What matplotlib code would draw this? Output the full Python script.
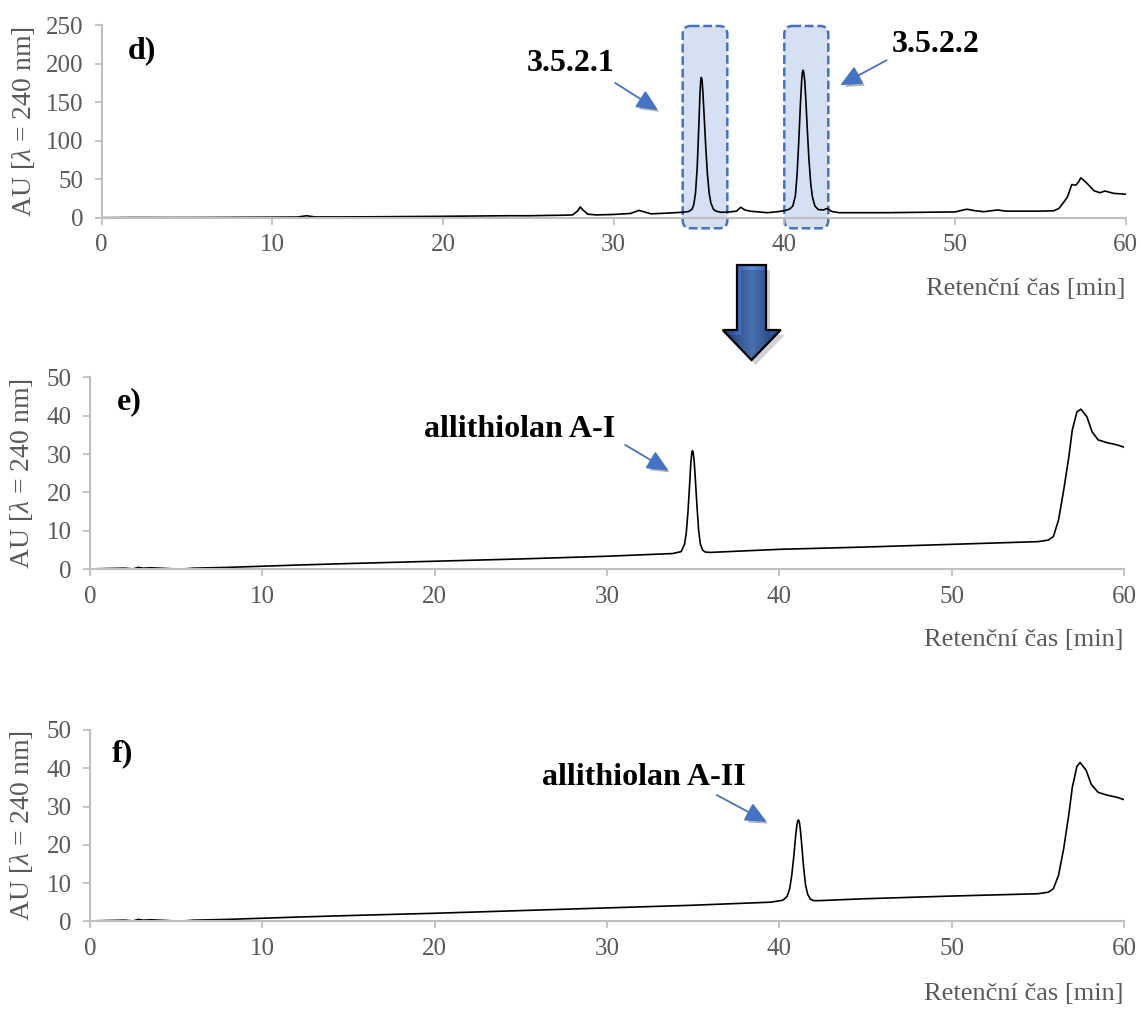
import matplotlib
matplotlib.use("Agg")
import matplotlib.pyplot as plt
import matplotlib.patheffects as pe
import numpy as np
from matplotlib.patches import FancyBboxPatch, Polygon
from matplotlib.colors import LinearSegmentedColormap

plt.rcParams["font.family"] = ["Liberation Serif", "DejaVu Serif"]
plt.rcParams["mathtext.fontset"] = "custom"
plt.rcParams["mathtext.rm"] = "Liberation Serif"
plt.rcParams["mathtext.it"] = "Liberation Serif:italic"

# ---- chromatogram d): crude fraction, retention time [min] vs. AU ----
t_d = [0, 2, 4, 6, 8, 10, 11.5, 12.0, 12.5, 14,
       16, 18, 20, 22, 24, 25, 26, 27, 27.6, 27.9,
       28.05, 28.2, 28.5, 29, 30, 31, 31.3, 31.5, 31.8, 32.2,
       33, 34, 34.4, 34.6, 34.7, 34.8, 34.9, 35.0, 35.06, 35.1,
       35.14, 35.18, 35.23, 35.3, 35.4, 35.5, 35.6, 35.7, 35.85, 36.0,
       36.3, 36.8, 37.2, 37.45, 37.7, 38.0, 38.5, 39.0, 39.5, 40.0,
       40.3, 40.5, 40.65, 40.75, 40.85, 40.95, 41.02, 41.06, 41.1, 41.14,
       41.2, 41.27, 41.35, 41.45, 41.55, 41.65, 41.8, 42.0, 42.3, 42.5,
       42.8, 43.2, 44, 46, 48, 50, 50.3, 50.7, 51.2, 51.7,
       52.5, 53, 54, 55, 55.8, 56.1, 56.4, 56.6, 56.85, 57.1,
       57.25, 57.38, 57.75, 58.15, 58.5, 58.8, 59.3, 60]
au_d = [0, 0.3, 0.2, 0.3, 0.5, 0.7, 0.9, 2.5, 1.0, 1.0,
        1.2, 1.5, 1.8, 2.2, 2.6, 2.5, 2.9, 3.2, 3.6, 9,
        14, 10, 4.5, 3.6, 4.2, 5.5, 8, 9.5, 7.5, 5,
        5.8, 7, 8, 11, 17, 32, 65, 122, 160, 176,
        182, 179, 164, 135, 92, 56, 32, 19, 11, 8.5,
        7, 7.5, 8.5, 13.5, 10, 8.5, 7.5, 6.5, 7.5, 9,
        11, 15, 28, 55, 98, 148, 177, 188, 191.3, 189,
        178, 152, 115, 75, 45, 27, 15, 10.5, 10, 12,
        8, 6.5, 6.5, 6.5, 7, 7.5, 9, 11, 9, 7.8,
        10, 8.5, 8.5, 8.5, 9, 12, 20.7, 27, 43, 42.3,
        46.6, 51.8, 44.5, 35, 32.4, 34.6, 31.6, 30.5]

# ---- chromatogram e): allithiolan A-I ----
t_e = [0, 1, 2, 2.5, 2.8, 3.1, 3.5, 4.5, 5.2, 6,
       7, 8, 10, 12, 15, 20, 25, 30, 33.8, 34.3,
       34.5, 34.6, 34.7, 34.8, 34.86, 34.92, 34.96, 35.0, 35.06, 35.12,
       35.22, 35.32, 35.42, 35.55, 35.7, 36.0, 40, 45, 50, 55,
       55.6, 55.9, 56.2, 56.5, 56.8, 57.0, 57.27, 57.5, 57.85, 58.15,
       58.5, 59.0, 59.6, 60]
au_e = [0.1, 0.2, 0.3, 0.1, 0.5, 0.3, 0.4, 0.2, 0.0, 0.3,
        0.4, 0.5, 0.8, 1.1, 1.5, 2.1, 2.7, 3.4, 4.1, 4.6,
        6.5, 9.5, 15, 22.5, 27.5, 30.3, 30.9, 30.4, 28, 24,
        16.5, 10, 6.5, 5, 4.5, 4.4, 5.2, 5.8, 6.5, 7.2,
        7.6, 8.5, 12.8, 20.6, 29.3, 36.3, 41.0, 41.7, 39.7, 35.8,
        33.7, 33.0, 32.4, 31.8]

# ---- chromatogram f): allithiolan A-II ----
t_f = [0, 1, 2, 2.5, 2.8, 3.1, 3.5, 4.5, 5.2, 6,
       7, 8, 10, 12, 15, 20, 25, 30, 35, 39.5,
       40.2, 40.45, 40.6, 40.72, 40.84, 40.95, 41.02, 41.07, 41.11, 41.16,
       41.22, 41.3, 41.4, 41.52, 41.65, 41.8, 42.0, 42.3, 45, 50,
       55, 55.6, 55.9, 56.2, 56.5, 56.8, 57.0, 57.27, 57.45, 57.8,
       58.1, 58.5, 59.0, 59.6, 60]
au_f = [0.1, 0.2, 0.3, 0.1, 0.5, 0.3, 0.4, 0.2, 0.0, 0.3,
        0.4, 0.5, 0.8, 1.1, 1.5, 2.1, 2.8, 3.5, 4.2, 5.0,
        5.5, 6.5, 8.5, 12, 17, 22.5, 25.2, 26.3, 26.5, 26.0,
        24, 20, 14.5, 9.5, 7, 5.8, 5.4, 5.4, 5.9, 6.6,
        7.2, 7.6, 8.5, 12, 19, 28, 35, 40.5, 41.5, 39.5,
        35.8, 33.7, 33.0, 32.4, 31.8]

x_ticks = [0, 10, 20, 30, 40, 50, 60]
y_ticks_d = [0, 50, 100, 150, 200, 250]
y_ticks_ef = [0, 10, 20, 30, 40, 50]

panel_tags = ["d)", "e)", "f)"]
peak_labels = ["3.5.2.1", "3.5.2.2", "allithiolan A-I", "allithiolan A-II"]
x_label = "Retenční čas [min]"
y_label = r"AU [$\lambda$ = 240 nm]"

W, H = 1141, 1010
fig = plt.figure(figsize=(W / 100, H / 100), dpi=100)
fig.patch.set_facecolor("white")

GRID = "#BFBFBF"
TXT = "#595959"
BLUE = "#4472C4"


def px_rect(left, right, top, bottom):
    return [left / W, 1 - bottom / H, (right - left) / W, (bottom - top) / H]


# background layer for highlight boxes and the connecting arrow (pixel coords)
ov = fig.add_axes([0, 0, 1, 1], zorder=0)
ov.set_xlim(0, W)
ov.set_ylim(H, 0)
ov.axis("off")
ov.patch.set_alpha(0)


def make_panel(rect, t, au, ymax, yticks, xlab_y, ylab_x):
    ax = fig.add_axes(rect, zorder=1)
    ax.set_facecolor("none")
    ax.plot(t, au, color="black", lw=1.2, solid_joinstyle="round")
    ax.set_xlim(0, 60)
    ax.set_ylim(0, ymax)
    ax.set_xticks(x_ticks)
    ax.set_yticks(yticks)
    for s in ["top", "right"]:
        ax.spines[s].set_visible(False)
    for s in ["left", "bottom"]:
        ax.spines[s].set_color(GRID)
        ax.spines[s].set_linewidth(1.5)
    ax.tick_params(colors=GRID, labelcolor=TXT, labelsize=18, length=5,
                   width=1.3, direction="out")
    ax.tick_params(axis="y", pad=8)
    ax.tick_params(axis="x", pad=7)
    ax.set_xlabel(x_label, fontsize=19, color=TXT, ha="right")
    ax.xaxis.set_label_coords(1.0, xlab_y)
    ax.set_ylabel(y_label, fontsize=20, color=TXT)
    ax.yaxis.set_label_coords(ylab_x, 0.5)
    return ax


ax_d = make_panel(px_rect(101.7, 1125.5, 25, 217.7), t_d, au_d, 250, y_ticks_d, -0.313, -0.063)
ax_e = make_panel(px_rect(90, 1124, 377.3, 569.3), t_e, au_e, 50, y_ticks_ef, -0.311, -0.053)
ax_f = make_panel(px_rect(90, 1124, 730, 921.3), t_f, au_f, 50, y_ticks_ef, -0.322, -0.053)

bold = dict(fontsize=23, fontweight="bold", color="black")
ax_d.text(1.54, 216, panel_tags[0], ha="left", va="center", **bold)
ax_e.text(1.57, 43.6, panel_tags[1], ha="left", va="center", **bold)
ax_f.text(1.28, 43.7, panel_tags[2], ha="left", va="center", **bold)

ax_d.text(27.45, 200, peak_labels[0], ha="center", va="center", **bold)
ax_d.text(48.9, 225, peak_labels[1], ha="center", va="center", **bold)
ax_e.text(24.93, 36.5, peak_labels[2], ha="center", va="center", **bold)
ax_f.text(32.14, 37.5, peak_labels[3], ha="center", va="center", **bold)

shadow = [pe.withSimplePatchShadow(offset=(2, -2), shadow_rgbFace="black", alpha=0.3)]


def pointer(ax, tail, tip):
    ax.annotate("", xy=tip, xytext=tail,
                arrowprops=dict(arrowstyle="-|>,head_length=0.65,head_width=0.3",
                                color=BLUE, lw=1.3, shrinkA=0, shrinkB=0,
                                mutation_scale=20, path_effects=shadow),
                annotation_clip=False)


pointer(ax_d, (30.09, 174.9), (32.6, 139.5))
pointer(ax_d, (46.0, 204.3), (43.28, 171.9))
pointer(ax_e, (31.05, 32.4), (33.57, 25.7))
pointer(ax_f, (36.37, 33.0), (39.27, 26.0))

# dashed highlight boxes around the two collected fractions
for x0, x1 in [(682.7, 727.3), (784.3, 828.3)]:
    box = FancyBboxPatch((x0, 26), x1 - x0, 228.3 - 26,
                         boxstyle="round,pad=0,rounding_size=8",
                         facecolor=(0.267, 0.447, 0.769, 0.22), edgecolor=BLUE,
                         linewidth=1.8, linestyle=(0, (3.5, 1.5)))
    ov.add_patch(box)

# big downward arrow linking the fractionation step to the pure compounds
arrow_pts = [(737, 265), (766, 265), (766, 330), (780.7, 330), (751.5, 360),
             (722.7, 330), (737, 330)]
shadow_pts = [(x + 4, y + 5) for x, y in arrow_pts]
ov.add_patch(Polygon(shadow_pts, closed=True, facecolor="black", alpha=0.18,
                     edgecolor="none"))
cmap = LinearSegmentedColormap.from_list(
    "bevel", ["#1E3C74", "#3D68B4", "#5A8AD6", "#3D68B4", "#1E3C74"])
grad = np.linspace(0, 1, 200)[None, :]
im = ov.imshow(grad, cmap=cmap, extent=(722.7, 780.7, 360, 265), aspect="auto",
               interpolation="bicubic")
clip = Polygon(arrow_pts, closed=True, transform=ov.transData)
im.set_clip_path(clip)
ov.add_patch(Polygon(arrow_pts, closed=True, fill=False, edgecolor="black",
                     linewidth=1.6, joinstyle="miter"))
ov.set_xlim(0, W)
ov.set_ylim(H, 0)

fig.savefig("out.png", dpi=100)
